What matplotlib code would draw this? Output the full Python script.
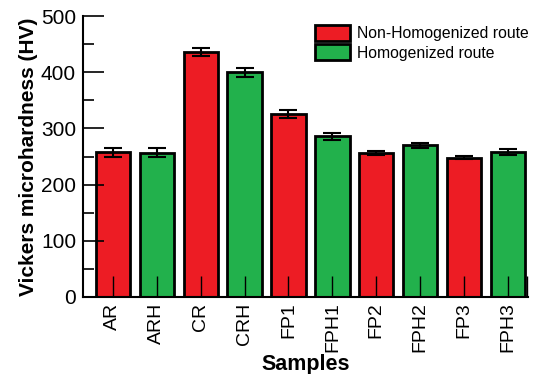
import numpy as np
import matplotlib.pyplot as plt
from matplotlib.patches import Patch
from matplotlib.ticker import MultipleLocator

# Samples and hardness values (HV)
samples = ['AR', 'ARH', 'CR', 'CRH', 'FP1', 'FPH1', 'FP2', 'FPH2', 'FP3', 'FPH3']
hardness = [258, 257, 436, 400, 325, 286, 256, 270, 248, 258]
errors = [8, 8, 7, 8, 7, 6, 3, 4, 3, 6]
homogenized = [False, True, False, True, False, True, False, True, False, True]

red = '#ed1c24'
green = '#22b14c'

plt.rcParams.update({'font.family': 'Liberation Sans', 'font.size': 15})

fig, ax = plt.subplots(figsize=(5.39, 3.74), dpi=100)
fig.subplots_adjust(left=0.154, right=0.98, top=0.957, bottom=0.206)

x = np.arange(len(samples))
colors = [green if h else red for h in homogenized]
ax.bar(x, hardness, width=0.78, color=colors, edgecolor='black', linewidth=2.0, zorder=1)
ax.errorbar(x, hardness, yerr=errors, fmt='none', ecolor='black',
            elinewidth=1.5, capsize=6.5, capthick=1.5, zorder=3)
# ticks sit on top of the bars
ax.set_axisbelow(False)

ax.set_xlim(-0.68, 9.46)
ax.set_ylim(0, 500)
ax.set_xticks(x)
ax.set_xticklabels(samples, rotation=90, fontsize=14)
ax.set_xticks([9.44], minor=True)
ax.yaxis.set_major_locator(MultipleLocator(100))
ax.yaxis.set_minor_locator(MultipleLocator(50))

ax.tick_params(axis='x', which='both', direction='in', length=15, width=1.0, pad=4)
ax.tick_params(axis='y', which='major', direction='in', length=15, width=1.2, pad=5)
ax.tick_params(axis='y', which='minor', direction='in', length=8, width=1.2)

for side in ['top', 'right']:
    ax.spines[side].set_visible(False)
for side in ['left', 'bottom']:
    ax.spines[side].set_linewidth(1.5)

ax.set_xlabel('Samples', fontweight='bold', fontsize=15.5, labelpad=1)
ax.set_ylabel('Vickers microhardness (HV)', fontweight='bold', fontsize=15, labelpad=2)

handles = [Patch(facecolor=red, edgecolor='black', linewidth=2.0, label='Non-Homogenized route'),
           Patch(facecolor=green, edgecolor='black', linewidth=2.0, label='Homogenized route')]
ax.legend(handles=handles, loc='upper right', frameon=False, fontsize=11.3,
          handlelength=2.2, handleheight=1.15, handletextpad=0.45, labelspacing=0.2,
          borderaxespad=0.0, bbox_to_anchor=(1.015, 0.99))

plt.savefig('out.png', dpi=100)
